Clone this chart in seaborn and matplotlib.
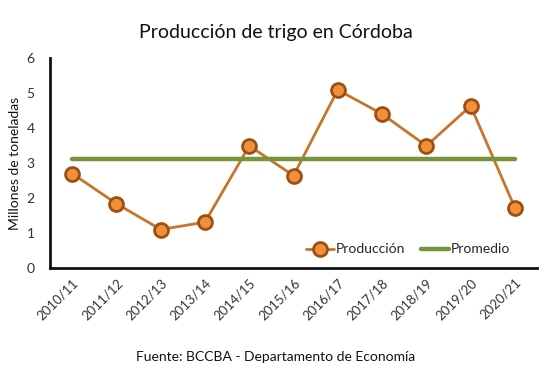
import matplotlib
matplotlib.use("Agg")
import matplotlib.pyplot as plt
import seaborn as sns
import pandas as pd

campanias = ["2010/11", "2011/12", "2012/13", "2013/14", "2014/15", "2015/16",
             "2016/17", "2017/18", "2018/19", "2019/20", "2020/21"]
produccion = [2.70, 1.84, 1.10, 1.31, 3.49, 2.64, 5.09, 4.40, 3.49, 4.63, 1.72]
promedio_valor = 3.12
promedio = [promedio_valor] * len(campanias)

df = pd.DataFrame({"Campaña": campanias, "Producción": produccion, "Promedio": promedio})

sns.set_style("white")
plt.rcParams["font.family"] = ["Lato", "DejaVu Sans"]

fig = plt.figure(figsize=(5.51, 3.86), dpi=100)
ax = fig.add_axes([0.0907, 0.3057, 0.884, 0.544])

sns.lineplot(data=df, x="Campaña", y="Producción", ax=ax, color="#C8742A", lw=2,
             marker="o", markersize=10, markerfacecolor="#F0913A",
             markeredgecolor="#9E4E12", markeredgewidth=2, label="Producción", sort=False)
sns.lineplot(data=df, x="Campaña", y="Promedio", ax=ax, color="#77933C", lw=3.2,
             label="Promedio", sort=False)

ax.set_ylim(0, 6)
ax.set_xlim(-0.5, len(campanias) - 0.5)
ax.set_yticks(range(0, 7))
ax.tick_params(axis="y", length=0, labelsize=10, colors="#333333", pad=11)
ax.tick_params(axis="x", length=0, labelsize=9.5, colors="#333333", pad=6)
for lab in ax.get_xticklabels():
    lab.set_rotation(45)
    lab.set_ha("right")
    lab.set_rotation_mode("anchor")
ax.set_xlabel("")
ax.set_ylabel("Millones de toneladas", fontsize=10, color="#111111", labelpad=4)

for s in ["top", "right"]:
    ax.spines[s].set_visible(False)
for s in ["left", "bottom"]:
    ax.spines[s].set_color("#111111")
    ax.spines[s].set_linewidth(2)

leg = ax.legend(loc="lower right", bbox_to_anchor=(0.97, 0.0), ncol=2, frameon=False,
                fontsize=10, handlelength=2.0, handletextpad=0.1, columnspacing=1.2)

fig.text(0.5, 0.915, "Producción de trigo en Córdoba", ha="center", va="center",
         fontsize=14, color="#111111")
fig.text(0.5, 0.075, "Fuente: BCCBA - Departamento de Economía", ha="center", va="center",
         fontsize=10, color="#111111")

fig.savefig("out.png", dpi=100)
